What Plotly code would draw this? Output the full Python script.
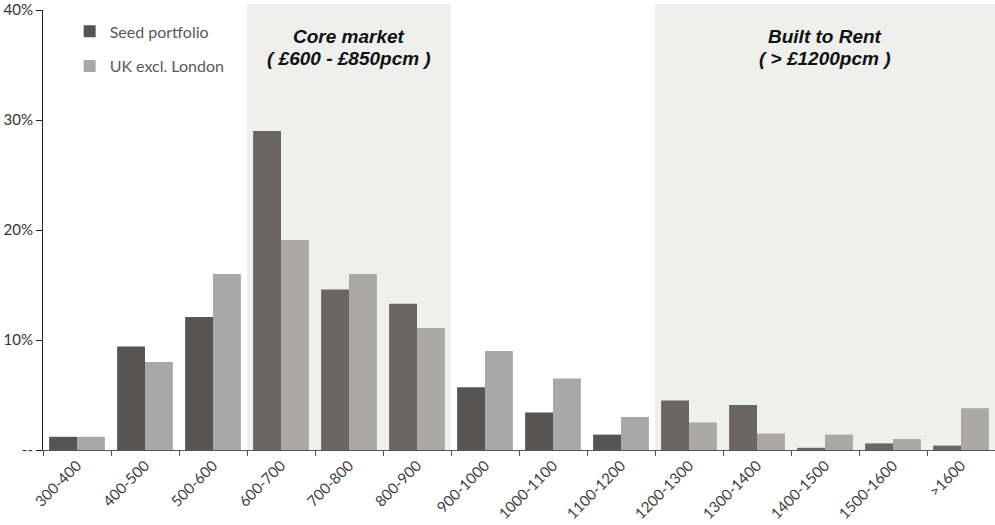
import plotly.graph_objects as go

# Monthly rent bands (GBP pcm)
bands = ["300-400", "400-500", "500-600", "600-700", "700-800", "800-900",
         "900-1000", "1000-1100", "1100-1200", "1200-1300", "1300-1400",
         "1400-1500", "1500-1600", ">1600"]

# Share of properties in each band (%)
seed_portfolio = [1.2, 9.4, 12.1, 29.0, 14.6, 13.3, 5.7, 3.4, 1.4, 4.5, 4.1, 0.2, 0.6, 0.4]
uk_excl_london = [1.2, 8.0, 16.0, 19.1, 16.0, 11.1, 9.0, 6.5, 3.0, 2.5, 1.5, 1.4, 1.0, 3.8]

# Highlighted market segments (first band, last band, title, rent range)
segments = [
    ("600-700", "800-900", "Core market", "( £600 - £850pcm )"),
    ("1200-1300", ">1600", "Built to Rent", "( > £1200pcm )"),
]

y_ticks = [0, 10, 20, 30, 40]
y_tick_labels = ["--", "10%", "20%", "30%", "40%"]

# Bars sitting on a shaded segment are drawn a touch lighter
shaded = set()
for a, b, _, _ in segments:
    shaded.update(range(bands.index(a), bands.index(b) + 1))
dark_cols = ["#6a6664" if i in shaded else "#575553" for i in range(len(bands))]
light_cols = ["#aaa8a6" if i in shaded else "#a8a8a8" for i in range(len(bands))]

fig = go.Figure()
fig.add_trace(go.Bar(x=bands, y=seed_portfolio, name="Seed portfolio",
                     marker=dict(color=dark_cols, line=dict(width=0)),
                     legendgroup="a"))
fig.add_trace(go.Bar(x=bands, y=uk_excl_london, name="UK excl. London",
                     marker=dict(color=light_cols, line=dict(width=0)),
                     legendgroup="b"))

seg_font = dict(family="Liberation Sans, Arial", size=19, color="#111111")
for a, b, title, rng in segments:
    i0, i1 = bands.index(a), bands.index(b)
    xc = (i0 + i1) / 2
    fig.add_shape(type="rect", xref="x", yref="paper",
                  x0=i0 - 0.5, x1=i1 + 0.5, y0=0, y1=1 + 6 / 440,
                  fillcolor="#efefee", line=dict(width=0), layer="below")
    fig.add_annotation(x=xc, y=1 - 26 / 440, xref="x", yref="paper",
                       yanchor="middle", text=f"<b><i>{title}</i></b>",
                       showarrow=False, font=seg_font)
    fig.add_annotation(x=xc, y=1 - 48 / 440, xref="x", yref="paper",
                       yanchor="middle", text=f"<b><i>{rng}</i></b>",
                       showarrow=False, font=seg_font)

fig.update_layout(
    width=995, height=525,
    margin=dict(l=43, r=0, t=10, b=75),
    paper_bgcolor="white", plot_bgcolor="white",
    barmode="group", bargap=0.18, bargroupgap=0,
    font=dict(family="Lato, Open Sans, sans-serif", size=14, color="#404040"),
    legend=dict(x=0.028, y=0.99, xanchor="left", yanchor="top",
                bgcolor="rgba(0,0,0,0)", tracegroupgap=11, itemwidth=30,
                font=dict(size=16, color="#595959")),
    showlegend=True,
)
fig.update_xaxes(type="category", tickangle=-45, tickson="boundaries",
                 ticks="outside", ticklen=5, tickcolor="#555555",
                 showline=True, linecolor="#555555", linewidth=1,
                 showgrid=False, tickfont=dict(size=15, color="#404040"))
fig.update_yaxes(range=[0, 40], tickvals=y_ticks, ticktext=y_tick_labels,
                 ticks="outside", ticklen=6, tickcolor="#222222",
                 showline=True, linecolor="#222222", linewidth=1,
                 showgrid=False, zeroline=False,
                 tickfont=dict(size=15, color="#333333"))

fig.write_html("out.html")
